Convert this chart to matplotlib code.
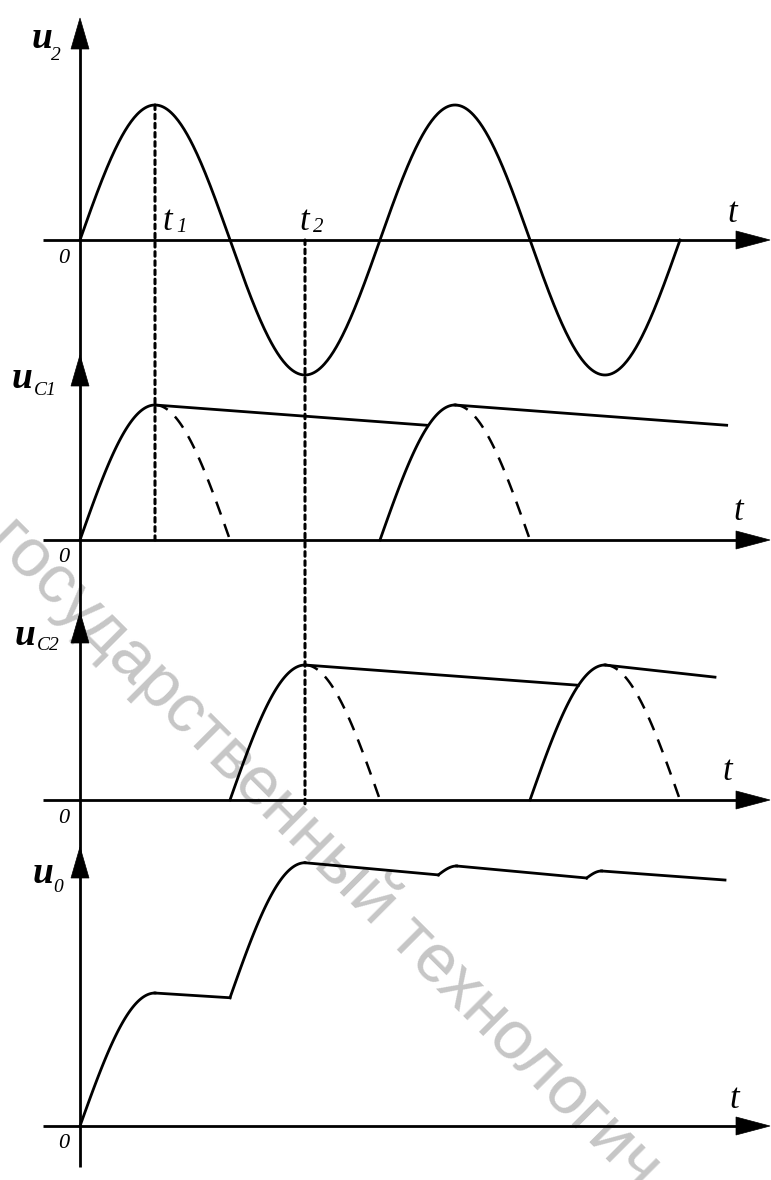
import numpy as np
import matplotlib
matplotlib.use('Agg')
import matplotlib.pyplot as plt
from matplotlib.patches import Polygon, ConnectionPatch
from matplotlib.font_manager import FontProperties

# ---------------- data (phase in electrical degrees, voltage in units of U2m) -------------
U2_AMPLITUDE = 1.0
U2_PHASE_RANGE = [0, 720]

UC1_CHARGE_SOLID = [[0, 90], [360, 450]]
UC1_CHARGE_DASHED = [[90, 180], [450, 540]]
UC1_HOLD = [[90, 1.00, 416, 0.85], [450, 1.00, 776, 0.85]]

UC2_CHARGE_SOLID = [[180, 270], [540, 630]]
UC2_CHARGE_DASHED = [[270, 360], [630, 720]]
UC2_HOLD = [[270, 1.00, 598, 0.85], [630, 1.00, 762, 0.91]]

# u0: rises (quarter-wave shaped) [start, end, low, high] and hold lines [start, v0, end, v1]
U0_RISE = [[0, 90, 0.0, 0.985], [180, 270, 0.95, 1.95], [430, 452, 1.86, 1.926], [608, 626, 1.837, 1.889]]
U0_HOLD = [[90, 0.985, 180, 0.95], [270, 1.95, 430, 1.86], [452, 1.926, 608, 1.837], [626, 1.889, 774, 1.822]]

T_MARK_PHASES = [90, 270]
T_MARK_SUBS = ['1', '2']

PANEL_NAMES = ['u', 'u', 'u', 'u']
PANEL_SUBS = ['2', 'C1', 'C2', '0']
WATERMARK = 'государственный технологич'

# ---------------- layout ----------------
W, H = 771, 1180
X0 = 80                 # pixel of phase 0
DEG_PER_PX = 1.2        # 300 px per period
S = 135.0               # px per voltage unit
Y0 = [240, 540, 800, 1126]           # pixel rows of the zero lines
ARROW_TIP = [18, 355, 612, 847]      # pixel rows of vertical arrow tips

fig = plt.figure(figsize=(W / 100, H / 100), dpi=100)
xlim = ((0 - X0) * DEG_PER_PX, (W - X0) * DEG_PER_PX)

axes = []
for i, y0 in enumerate(Y0):
    ax = fig.add_axes([0, 0, 1, 1], label=f'panel{i}')
    ax.set_xlim(*xlim)
    ax.set_ylim((y0 - H) / S, y0 / S)
    ax.axis('off')
    ax.patch.set_alpha(0)
    axes.append(ax)

LW_AX = 2.0
LW_C = 2.0
DASH = (0, (5.5, 4.0))
DOT = (0, (1.5, 1.5))

# horizontal axes with arrowheads
for ax in axes:
    x_start = (43 - X0) * DEG_PER_PX
    x_base = (736 - X0) * DEG_PER_PX
    x_tip = (770 - X0) * DEG_PER_PX
    ax.plot([x_start, x_base + 2], [0, 0], color='black', lw=LW_AX, solid_capstyle='butt', clip_on=False)
    hh = 9 / S
    ax.add_patch(Polygon([[x_tip, 0], [x_base, hh], [x_base, -hh]], closed=True,
                         facecolor='black', edgecolor='black', lw=0.5, clip_on=False))

# vertical axis (one continuous line) and arrowheads
ax1 = axes[0]
ax1.plot([0, 0], [(Y0[0] - ARROW_TIP[0] - 20) / S, (Y0[0] - 1167) / S], color='black', lw=LW_AX,
         solid_capstyle='butt', clip_on=False)
for ax, y0, tip in zip(axes, Y0, ARROW_TIP):
    vt = (y0 - tip) / S
    vb = (y0 - tip - 31) / S
    hw = 9 * DEG_PER_PX
    ax.add_patch(Polygon([[0, vt], [-hw, vb], [hw, vb]], closed=True,
                         facecolor='black', edgecolor='black', lw=0.5, clip_on=False))

# ---- panel 1: u2
th = np.linspace(U2_PHASE_RANGE[0], U2_PHASE_RANGE[1], 600)
axes[0].plot(th, U2_AMPLITUDE * np.sin(np.radians(th)), color='black', lw=LW_C)

# ---- panel 2: uC1
for a, b in UC1_CHARGE_SOLID:
    t = np.linspace(a, b, 120)
    axes[1].plot(t, np.sin(np.radians(t)), color='black', lw=LW_C)
for a, b in UC1_CHARGE_DASHED:
    t = np.linspace(a, b, 120)
    axes[1].plot(t, np.sin(np.radians(t)), color='black', lw=1.8, linestyle=DASH)
for a, va, b, vb in UC1_HOLD:
    axes[1].plot([a, b], [va, vb], color='black', lw=LW_C)

# ---- panel 3: uC2
for a, b in UC2_CHARGE_SOLID:
    t = np.linspace(a, b, 120)
    axes[2].plot(t, -np.sin(np.radians(t)), color='black', lw=LW_C)
for a, b in UC2_CHARGE_DASHED:
    t = np.linspace(a, b, 120)
    axes[2].plot(t, -np.sin(np.radians(t)), color='black', lw=1.8, linestyle=DASH)
for a, va, b, vb in UC2_HOLD:
    axes[2].plot([a, b], [va, vb], color='black', lw=LW_C)

# ---- panel 4: u0
for a, b, lo, hi in U0_RISE:
    t = np.linspace(a, b, 120)
    axes[3].plot(t, lo + (hi - lo) * np.sin(np.radians(90 * (t - a) / (b - a))), color='black', lw=LW_C)
for a, va, b, vb in U0_HOLD:
    axes[3].plot([a, b], [va, vb], color='black', lw=LW_C)

# ---- dotted markers t1, t2
cp1 = ConnectionPatch(xyA=(T_MARK_PHASES[0], 1.0), coordsA=axes[0].transData,
                      xyB=(T_MARK_PHASES[0], 0.0), coordsB=axes[1].transData,
                      color='black', lw=2.2, linestyle=DOT)
fig.add_artist(cp1)
cp2 = ConnectionPatch(xyA=(T_MARK_PHASES[1], 0.0), coordsA=axes[0].transData,
                      xyB=(T_MARK_PHASES[1], -8 / S), coordsB=axes[2].transData,
                      color='black', lw=2.2, linestyle=DOT)
fig.add_artist(cp2)

# ---- text
SERIF = 'Liberation Serif'


def ptext(x, y, s, **kw):
    fig.text(x / W, 1 - y / H, s, ha='left', va='baseline', family=SERIF, **kw)


u_pos = [(32, 48), (12, 388), (15, 645), (33, 883)]
sub_pos = [(51, 60), (34, 395), (37, 650), (53, 892)]
for (ux, uy), (sx, sy), name, sub in zip(u_pos, sub_pos, PANEL_NAMES, PANEL_SUBS):
    ptext(ux, uy, name, fontsize=27, style='italic', weight='bold')
    ptext(sx, sy, sub, fontsize=14, style='italic')

t_pos = [(727, 222), (733, 520), (722, 780), (729, 1108)]
for tx, ty in t_pos:
    ptext(tx, ty, 't', fontsize=25, style='italic')

zero_pos = [(58, 263), (58, 562), (58, 823), (58, 1148)]
for zx, zy in zero_pos:
    ptext(zx, zy, '0', fontsize=16, style='italic')

tm_pos = [(162, 230), (299, 230)]
for (tx, ty), sub in zip(tm_pos, T_MARK_SUBS):
    ptext(tx, ty, 't', fontsize=25, style='italic')
    ptext(tx + 14, ty + 2, sub, fontsize=15, style='italic')

# ---- watermark: straight diagonal at 45 deg, sized so that letters land where the reference shows them
renderer = fig.canvas.get_renderer()
ref_fs = 50.0
fp = FontProperties(family='Liberation Sans', size=ref_fs)


def wpx(s):
    if not s:
        return 0.0
    return renderer.get_text_width_height_descent(s, fp, ismath=False)[0]


def center_of(idx):
    return 0.5 * (wpx(WATERMARK[:idx]) + wpx(WATERMARK[:idx + 1]))


i_o, i_i = 1, WATERMARK.rfind('и')
dist_target = np.hypot(613 - 30, 1142 - 558)
fs = ref_fs * dist_target / (center_of(i_i) - center_of(i_o))
scale = fs / ref_fs
off_o = center_of(i_o) * scale
em = fs * 100 / 72
ang = np.radians(45)
dx, dy = np.cos(ang), np.sin(ang)       # along text (screen, y down)
ux, uy = np.sin(ang), -np.cos(ang)      # text "up" (screen, y down)
xh = 0.52 * em
ax_px = 30 - dx * off_o - ux * xh / 2
ay_px = 558 - dy * off_o - uy * xh / 2
fig.text(ax_px / W, 1 - ay_px / H, WATERMARK, rotation=-45, rotation_mode='anchor',
         ha='left', va='baseline', fontsize=fs, color='#c6c6c6', family='Liberation Sans', zorder=-5)

fig.savefig('out.png', dpi=100, facecolor='white')
